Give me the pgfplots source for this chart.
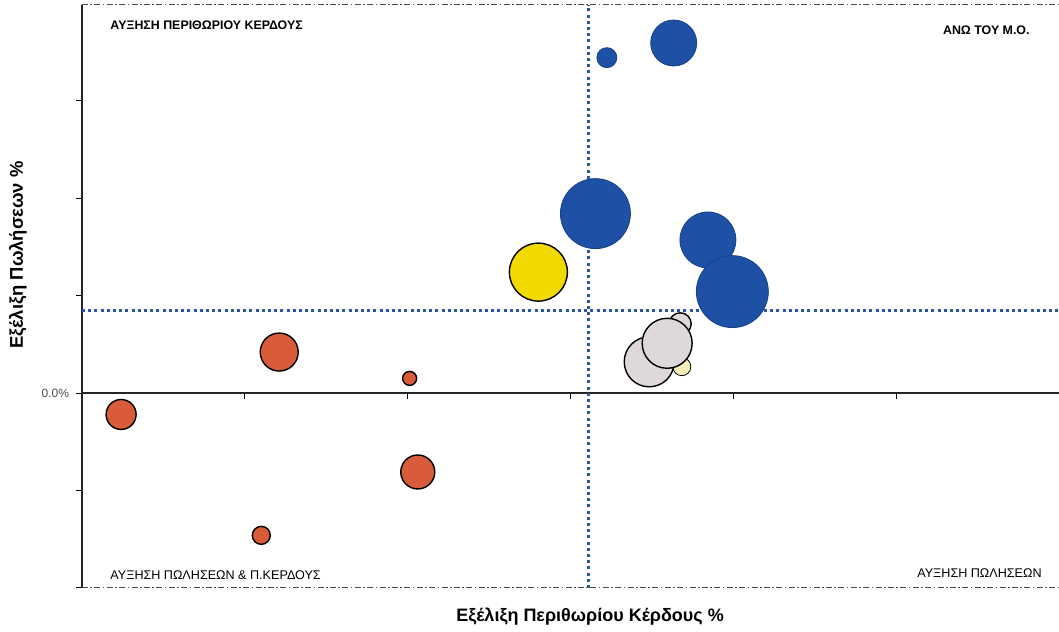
\documentclass[border=0pt]{standalone}
\usepackage{pgfplots}
\pgfplotsset{compat=1.18}
\usepackage{fontspec}
\setmainfont{Liberation Sans}
\definecolor{bblue}{RGB}{30,80,166}
\definecolor{cred}{RGB}{217,92,58}
\definecolor{cyel}{RGB}{240,218,0}
\definecolor{pyel}{RGB}{246,238,185}
\definecolor{cgrey}{RGB}{222,216,220}
\definecolor{dotblue}{RGB}{45,88,160}
\newcommand\bub[4]{\addplot[only marks, mark=*, mark size=#3pt, mark options={#4}] coordinates {(#1,#2)};}
\begin{document}
\begin{tikzpicture}
\begin{axis}[
  scale only axis, width=488.5pt, height=291.5pt,
  xmin=0, xmax=5.994, ymin=-2, ymax=3.98,
  axis line style={draw=none},
  xtick=\empty,
  ytick={-2,-1,0,1,2,3},
  yticklabels={,,0.0\%,,,},
  yticklabel style={font=\fontsize{6}{7}\selectfont, text=black!70},
  ytick pos=left, tick align=outside, major tick length=3pt,
  tick style={black, line width=0.5pt},
  clip=false,
  /pgf/number format/assume math mode=true,
]
\coordinate (BL) at (axis cs:0,-2);
\coordinate (TR) at (axis cs:5.994,3.98);
\draw[black!85, line width=0.7pt] (axis cs:0,-2) -- (axis cs:0,3.98);
\draw[black!85, line width=0.7pt] (axis cs:0,0) -- (axis cs:5.994,0);
\pgfplotsinvokeforeach{1,...,5}{\draw[black, line width=0.5pt] (axis cs:#1,0) -- ++(0pt,-3pt);}
\draw[black!70, line width=0.5pt, dash pattern=on 3pt off 1.2pt on 0.8pt off 1.2pt] (axis cs:0,3.98) -- (axis cs:5.994,3.98);
\draw[black!70, line width=0.5pt, dash pattern=on 3pt off 1.2pt on 0.8pt off 1.2pt] (axis cs:0,-2) -- (axis cs:5.994,-2);
\addplot[dotblue, line width=1.5pt, dash pattern=on 1.5pt off 1.6pt] coordinates {(3.11,-2) (3.11,3.98)};
\addplot[dotblue, line width=1.5pt, dash pattern=on 1.5pt off 1.6pt] coordinates {(0,0.85) (5.994,0.85)};
% blue
\bub{3.22}{3.44}{5}{draw=bblue!80!black, fill=bblue, line width=0.4pt}
\bub{3.63}{3.59}{11.5}{draw=bblue!80!black, fill=bblue, line width=0.4pt}
\bub{3.15}{1.84}{17.5}{draw=bblue!80!black, fill=bblue, line width=0.4pt}
\bub{3.84}{1.57}{14}{draw=bblue!80!black, fill=bblue, line width=0.4pt}
\bub{3.99}{1.04}{18}{draw=bblue!80!black, fill=bblue, line width=0.4pt}
% pale yellow behind grey
\bub{3.68}{0.27}{4.5}{draw=none, fill=pyel}
% grey
\bub{3.67}{0.71}{5.5}{draw=black, fill=cgrey, line width=0.7pt}
\bub{3.48}{0.32}{12.5}{draw=black, fill=cgrey, line width=0.7pt}
\bub{3.59}{0.51}{12.5}{draw=black, fill=cgrey, line width=0.7pt}
% yellow
\bub{2.80}{1.24}{14.5}{draw=black, fill=cyel, line width=0.7pt}
% red
\bub{0.24}{-0.22}{7.5}{draw=black, fill=cred, line width=0.7pt}
\bub{1.21}{0.42}{9.5}{draw=black, fill=cred, line width=0.7pt}
\bub{2.01}{0.15}{3.5}{draw=black, fill=cred, line width=0.7pt}
\bub{2.06}{-0.81}{8.5}{draw=black, fill=cred, line width=0.7pt}
\bub{1.10}{-1.46}{4.5}{draw=black, fill=cred, line width=0.7pt}
\node[anchor=west, inner sep=0pt, font=\bfseries\fontsize{6.2}{7}\selectfont] at (axis cs:0.172,3.774) {ΑΥΞΗΣΗ ΠΕΡΙΘΩΡΙΟΥ ΚΕΡΔΟΥΣ};
\node[anchor=east, inner sep=0pt, font=\bfseries\fontsize{6.2}{7}\selectfont] at (axis cs:5.816,3.723) {ΑΝΩ ΤΟΥ Μ.Ο.};
\node[anchor=west, inner sep=0pt, font=\fontsize{6.3}{7}\selectfont] at (axis cs:0.172,-1.867) {ΑΥΞΗΣΗ ΠΩΛΗΣΕΩΝ \& Π.ΚΕΡΔΟΥΣ};
\node[anchor=east, inner sep=0pt, font=\fontsize{6.3}{7}\selectfont] at (axis cs:5.89,-1.846) {ΑΥΞΗΣΗ ΠΩΛΗΣΕΩΝ};
\node[font=\bfseries\fontsize{9}{11}\selectfont] at (axis cs:3.117,-2.297) {Εξέλιξη Περιθωρίου Κέρδους \%};
\node[rotate=90, font=\bfseries\fontsize{9.2}{11}\selectfont] at (axis cs:-0.393,1.415) {Εξέλιξη Πωλήσεων \%};
\end{axis}
\pgfresetboundingbox
\path ([shift={(-41pt,-22pt)}]BL) rectangle ([shift={(0pt,2.5pt)}]TR);
\end{tikzpicture}
\end{document}
